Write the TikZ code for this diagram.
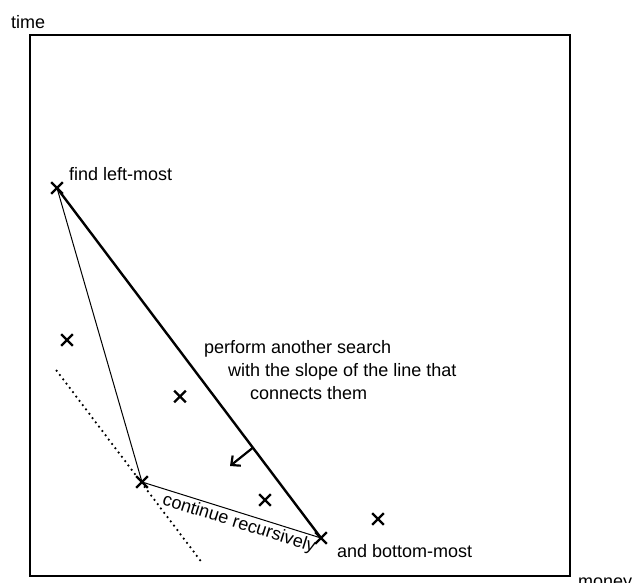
\documentclass[tikz,border=0pt]{standalone}
\usepackage{fontspec}
\setmainfont{Liberation Sans}
\usetikzlibrary{shapes.misc,arrows.meta,calc}
\begin{document}
\begin{tikzpicture}[x=1pt,y=-1pt,
  xmark/.style={cross out,draw,minimum size=9.5pt,inner sep=0pt,line width=2.2pt},
  lbl/.style={anchor=base west,inner sep=0pt,font=\fontsize{18}{21}\selectfont},
  thinline/.style={line width=1pt},
  thickline/.style={line width=2.4pt}]
\useasboundingbox (0,0) rectangle (641,582);
% frame
\draw[line width=2.2pt] (30,35) rectangle (570,576);
\node[lbl] (time) at (11,28) {time};
\node[lbl] (money) at (578,587) {money};
% points
\node[xmark] (A) at (57,188) {};
\node[xmark] (B) at (321,538) {};
\node[xmark] (C) at (142,482) {};
\node[xmark] (p1) at (67,340) {};
\node[xmark] (p2) at (180,396.5) {};
\node[xmark] (p3) at (265,500) {};
\node[xmark] (p4) at (378,519) {};
% lines
\draw[thickline] (A.center) -- (B.center);
\draw[thinline] (A.center) -- (C.center);
\draw[thinline] (C.center) -- (B.center)
  node[pos=0.56,below,sloped,inner sep=2pt,font=\fontsize{18}{21}\selectfont] (cr) {continue recursively};
\coordinate (d1) at (56.7,370.7);
\coordinate (d2) at (203,564);
\draw[line width=2.5pt,dash pattern=on 0pt off 5.4pt,line cap=round] (d1) -- (d2);
% arrow
\coordinate (a0) at ($(A.center)!0.742!(B.center)$);
\coordinate (a1) at (230,466);
\draw[line width=2.2pt,-{Straight Barb[length=7pt,width=13pt]}] (a0) -- (a1);
% labels
\node[lbl] (t1) at (69,180) {find left-most};
\node[lbl] (t2) at (204,353) {perform another search};
\node[lbl] (t3) at (228,376) {with the slope of the line that};
\node[lbl] (t4) at (250,399) {connects them};
\node[lbl] (t5) at (337,557) {and bottom-most};
\end{tikzpicture}
\end{document}
